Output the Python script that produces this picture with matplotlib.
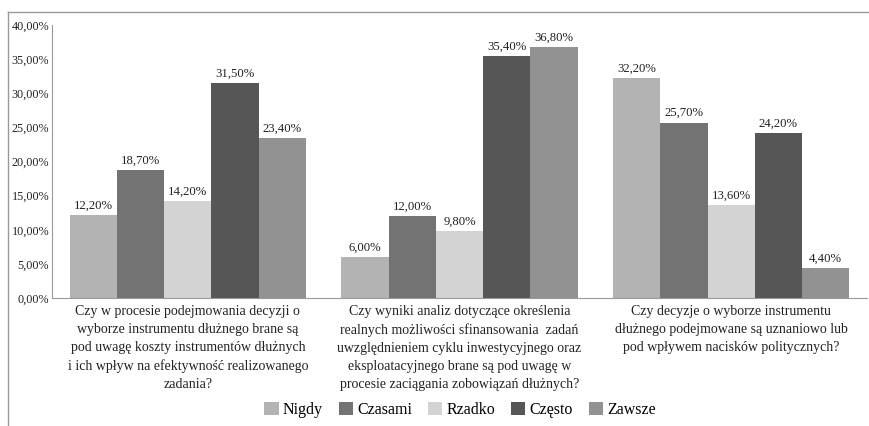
import matplotlib.pyplot as plt
import numpy as np
from matplotlib.lines import Line2D

plt.rcParams['font.family'] = ['Liberation Serif', 'DejaVu Serif']

categories = [
    'Czy w procesie podejmowania decyzji o\nwyborze instrumentu dłużnego brane są\n'
    'pod uwagę koszty instrumentów dłużnych\ni ich wpływ na efektywność realizowanego\nzadania?',
    'Czy wyniki analiz dotyczące określenia\nrealnych możliwości sfinansowania  zadań\n'
    'uwzględnieniem cyklu inwestycyjnego oraz\neksploatacyjnego brane są pod uwagę w\n'
    'procesie zaciągania zobowiązań dłużnych?',
    'Czy decyzje o wyborze instrumentu\ndłużnego podejmowane są uznaniowo lub\n'
    'pod wpływem nacisków politycznych?',
]
series = ['Nigdy', 'Czasami', 'Rzadko', 'Często', 'Zawsze']
nigdy = [12.2, 6.0, 32.2]
czasami = [18.7, 12.0, 25.7]
rzadko = [14.2, 9.8, 13.6]
czesto = [31.5, 35.4, 24.2]
zawsze = [23.4, 36.8, 4.4]
values = [nigdy, czasami, rzadko, czesto, zawsze]
colors = ['#b3b3b3', '#737373', '#d3d3d3', '#565656', '#929292']

fig = plt.figure(figsize=(8.69, 4.26), dpi=100)
ax = fig.add_axes([52 / 869, 1 - 298 / 426, (867 - 52) / 869, (298 - 25) / 426])

x = np.arange(len(categories))
w = 0.174
for i, (name, vals, c) in enumerate(zip(series, values, colors)):
    pos = x + (i - 2) * w
    bars = ax.bar(pos, vals, width=w, color=c, label=name, edgecolor='none')
    for b, v in zip(bars, vals):
        ax.text(b.get_x() + b.get_width() / 2, v + 0.5, f'{v:.2f}%'.replace('.', ','),
                ha='center', va='bottom', fontsize=9.2, color='#222222')

ax.set_xlim(-0.5, 2.5)
ax.set_ylim(0, 40)
ax.set_yticks(np.arange(0, 41, 5))
ax.set_yticklabels([f'{t:.2f}%'.replace('.', ',') for t in np.arange(0, 41, 5)],
                   fontsize=8.7, color='#222222')
ax.tick_params(axis='y', length=0, pad=2)
ax.set_xticks(x)
ax.set_xticklabels(categories, fontsize=10, color='#222222', linespacing=1.5, va='top')
ax.tick_params(axis='x', length=0, pad=5)
for s in ['top', 'right']:
    ax.spines[s].set_visible(False)
ax.spines['left'].set_color('#999999')
ax.spines['bottom'].set_color('#999999')

# outer chart border (left and top only visible in the crop)
fig.add_artist(Line2D([8 / 869, 8 / 869], [0, 1 - 12 / 426], color='#999999', lw=1))
fig.add_artist(Line2D([8 / 869, 1], [1 - 12 / 426, 1 - 12 / 426], color='#999999', lw=1))

fig.legend(loc='center', bbox_to_anchor=(460 / 869, 1 - 410 / 426), ncol=5,
           frameon=False, fontsize=11.5, handlelength=0.9, handleheight=0.9,
           handletextpad=0.25, columnspacing=1.0)

fig.savefig('out.png', dpi=100, facecolor='white')
